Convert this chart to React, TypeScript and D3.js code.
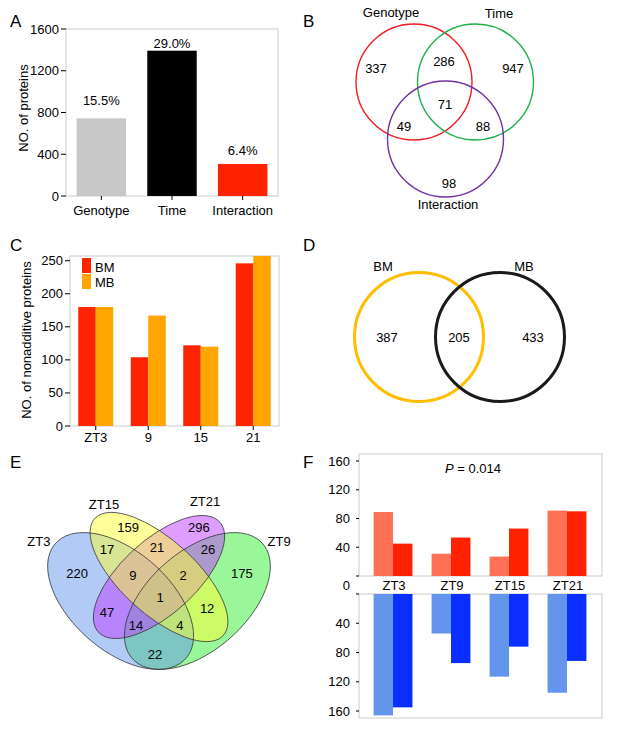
import * as d3 from "d3";

// A: proteins affected by genotype / time / interaction
const aCategories = ["Genotype", "Time", "Interaction"];
const aValues = [744, 1392, 307];
const aPercents = ["15.5%", "29.0%", "6.4%"];
const aColors = ["#c8c8c8", "#000000", "#ff2200"];
const aTicks = [0, 400, 800, 1200, 1600];

// B: three-set venn
const bSets = ["Genotype", "Time", "Interaction"];
const bSetColors = ["#f01c25", "#1fb04c", "#7030a0"];
const bRegions = ["G", "T", "I", "GT", "GI", "TI", "GTI"];
const bCounts = [337, 947, 98, 286, 49, 88, 71];

// C: nonadditive proteins per time point
const cGroups = ["ZT3", "9", "15", "21"];
const cSeries = ["BM", "MB"];
const cBM = [180, 104, 122, 246];
const cMB = [180, 167, 120, 258];
const cColors = ["#ff2400", "#ffa500"];
const cTicks = [0, 50, 100, 150, 200, 250];

// D: two-set venn
const dSets = ["BM", "MB"];
const dSetColors = ["#ffbe00", "#1a1a1a"];
const dCounts = [387, 205, 433];

// E: four-set venn (VennDiagram style ellipses)
const eSets = ["ZT3", "ZT9", "ZT15", "ZT21"];
const eFills = ["#6495ed", "#33f033", "#ffff33", "#bf3eff"];
const eDrawOrder = [1, 0, 3, 2];
const eRegions = [
  "ZT3", "ZT15", "ZT21", "ZT9",
  "ZT3&ZT15", "ZT15&ZT21", "ZT21&ZT9",
  "ZT3&ZT15&ZT21", "ZT15&ZT21&ZT9", "all",
  "ZT3&ZT21", "ZT15&ZT9",
  "ZT3&ZT21&ZT9", "ZT3&ZT15&ZT9", "ZT3&ZT9",
];
const eCounts = [220, 159, 296, 175, 17, 21, 26, 9, 2, 1, 47, 12, 14, 4, 22];

// F: up / down counts
const fGroups = ["ZT3", "ZT9", "ZT15", "ZT21"];
const fUpLight = [89, 31, 27, 91];
const fUpDark = [45, 53.5, 66, 90];
const fDownLight = [166, 54, 113, 135];
const fDownDark = [155, 94.5, 72, 91.5];
const fTicks = [40, 80, 120, 160];
const fColors = ["#ff7256", "#ff2200", "#6495ed", "#0a2eff"];

const FONT = "'Liberation Sans', Arial, sans-serif";
const FRAME = "#cccccc";

const PanelLetter = ({ x, y, t }) => (
  <text x={x} y={y} fontSize={17}>{t}</text>
);

const PanelA = () => {
  const x = d3.scaleBand().domain(aCategories).range([66, 278]).paddingInner(0.3).paddingOuter(0.15);
  const y = d3.scaleLinear().domain([0, 1600]).range([196, 29]);
  const labelOffsets = [13, 3, 9];
  return (
    <g>
      <PanelLetter x={10} y={27} t="A" />
      <rect x={66} y={29} width={212} height={167} fill="none" stroke={FRAME} />
      {aCategories.map((c, i) => (
        <g key={c}>
          <rect x={x(c)} y={y(aValues[i])} width={x.bandwidth()} height={y(0) - y(aValues[i])} fill={aColors[i]} />
          <text x={x(c) + x.bandwidth() / 2} y={y(aValues[i]) - labelOffsets[i]} textAnchor="middle" fontSize={13}>{aPercents[i]}</text>
          <line x1={x(c) + x.bandwidth() / 2} x2={x(c) + x.bandwidth() / 2} y1={196} y2={200} stroke="#000" />
          <text x={x(c) + x.bandwidth() / 2} y={215} textAnchor="middle" fontSize={13}>{c}</text>
        </g>
      ))}
      {aTicks.map((t) => (
        <g key={t}>
          <line x1={61} x2={66} y1={y(t)} y2={y(t)} stroke="#000" />
          <text x={59} y={y(t) + 4.5} textAnchor="end" fontSize={13}>{t}</text>
        </g>
      ))}
      <text transform="translate(28,108) rotate(-90)" textAnchor="middle" fontSize={13}>NO. of proteins</text>
    </g>
  );
};

const PanelB = () => {
  const circles = [
    { cx: 414, cy: 82 },
    { cx: 475.5, cy: 82 },
    { cx: 445.5, cy: 139 },
  ];
  const setLabels = [
    { x: 391, y: 17 },
    { x: 499, y: 18 },
    { x: 448, y: 209 },
  ];
  const regionPos = {
    G: [376, 68], T: [513, 68], I: [449, 183], GT: [444, 61],
    GI: [404, 126], TI: [483, 126], GTI: [445, 104],
  };
  return (
    <g>
      <PanelLetter x={303} y={27} t="B" />
      {bSets.map((s, i) => (
        <g key={s}>
          <circle cx={circles[i].cx} cy={circles[i].cy} r={58} fill="none" stroke={bSetColors[i]} strokeWidth={1.4} />
          <text x={setLabels[i].x} y={setLabels[i].y} textAnchor="middle" fontSize={13}>{s}</text>
        </g>
      ))}
      {bRegions.map((r, i) => (
        <text key={r} x={regionPos[r][0]} y={regionPos[r][1] + 4.5} textAnchor="middle" fontSize={13}>{bCounts[i]}</text>
      ))}
    </g>
  );
};

const PanelC = () => {
  const x = d3.scaleBand().domain(cGroups).range([70, 279]).paddingInner(0.333).paddingOuter(0.157);
  const xi = d3.scaleBand().domain(cSeries).range([0, x.bandwidth()]);
  const y = d3.scaleLinear().domain([0, 250]).range([426, 260.7]);
  const vals = [cBM, cMB];
  return (
    <g>
      <PanelLetter x={10} y={251} t="C" />
      <rect x={70} y={256} width={209} height={170} fill="none" stroke={FRAME} />
      {cGroups.map((g, gi) => (
        <g key={g}>
          {cSeries.map((s, si) => (
            <rect key={s} x={x(g) + xi(s)} y={Math.max(y(vals[si][gi]), 256)} width={xi.bandwidth()}
              height={y(0) - Math.max(y(vals[si][gi]), 256)} fill={cColors[si]} />
          ))}
          <line x1={x(g) + x.bandwidth() / 2} x2={x(g) + x.bandwidth() / 2} y1={426} y2={430} stroke="#000" />
          <text x={x(g) + x.bandwidth() / 2} y={442} textAnchor="middle" fontSize={13}>{g}</text>
        </g>
      ))}
      {cTicks.map((t) => (
        <g key={t}>
          <line x1={65} x2={70} y1={y(t)} y2={y(t)} stroke="#000" />
          <text x={63} y={y(t) + 4.5} textAnchor="end" fontSize={13}>{t}</text>
        </g>
      ))}
      {cSeries.map((s, i) => (
        <g key={s}>
          <rect x={82} y={258 + i * 16} width={9} height={15} fill={cColors[i]} />
          <text x={95} y={272 + i * 15} fontSize={13}>{s}</text>
        </g>
      ))}
      <text transform="translate(31,340) rotate(-90)" textAnchor="middle" fontSize={13}>NO. of nonadditive proteins</text>
    </g>
  );
};

const PanelD = () => {
  const cx = [419, 500];
  const labelX = [383, 524];
  const countX = [387, 459, 533];
  return (
    <g>
      <PanelLetter x={303} y={251} t="D" />
      {dSets.map((s, i) => (
        <g key={s}>
          <circle cx={cx[i]} cy={337} r={64.5} fill="none" stroke={dSetColors[i]} strokeWidth={3} />
          <text x={labelX[i]} y={271} textAnchor="middle" fontSize={13}>{s}</text>
        </g>
      ))}
      {dCounts.map((c, i) => (
        <text key={i} x={countX[i]} y={342} textAnchor="middle" fontSize={13}>{c}</text>
      ))}
    </g>
  );
};

const PanelE = () => {
  const ux = d3.scaleLinear().domain([0, 1]).range([31, 287]);
  const uy = d3.scaleLinear().domain([0, 1]).range([713.8, 473.8]);
  const ellipses = [
    { x: 0.35, y: 0.47, a: 0.35, b: 0.2, rot: 135 },
    { x: 0.65, y: 0.47, a: 0.35, b: 0.2, rot: 45 },
    { x: 0.5, y: 0.57, a: 0.35, b: 0.15, rot: 135 },
    { x: 0.5, y: 0.57, a: 0.33, b: 0.15, rot: 45 },
  ];
  const setLabelPos = [[0.031, 0.72], [0.969, 0.72], [0.285, 0.874], [0.68, 0.883]];
  const regionPos = [
    [0.18, 0.583], [0.379, 0.778], [0.656, 0.778], [0.824, 0.583],
    [0.297, 0.683], [0.492, 0.691], [0.691, 0.683],
    [0.398, 0.578], [0.594, 0.578], [0.504, 0.483],
    [0.297, 0.424], [0.688, 0.437],
    [0.41, 0.37], [0.582, 0.37], [0.484, 0.249],
  ];
  const sx = ux(1) - ux(0);
  const sy = uy(1) - uy(0);
  const ellipseTransform = (e) => `translate(${e.x},${e.y}) rotate(${e.rot})`;
  return (
    <g>
      <PanelLetter x={10} y={468} t="E" />
      <g transform={`translate(${ux(0)},${uy(0)}) scale(${sx},${sy})`}>
        {eDrawOrder.map((i) => (
          <ellipse key={"f" + eSets[i]} transform={ellipseTransform(ellipses[i])} rx={ellipses[i].a} ry={ellipses[i].b}
            fill={eFills[i]} fillOpacity={0.5} stroke="none" />
        ))}
        {eDrawOrder.map((i) => (
          <ellipse key={"s" + eSets[i]} transform={ellipseTransform(ellipses[i])} rx={ellipses[i].a} ry={ellipses[i].b}
            fill="none" stroke="#333" strokeWidth={0.8} vectorEffect="non-scaling-stroke" />
        ))}
      </g>
      {eSets.map((s, i) => (
        <text key={s} x={ux(setLabelPos[i][0])} y={uy(setLabelPos[i][1]) + 4.5} textAnchor="middle" fontSize={13}>{s}</text>
      ))}
      {eRegions.map((r, i) => (
        <text key={r} x={ux(regionPos[i][0])} y={uy(regionPos[i][1]) + 4.5} textAnchor="middle" fontSize={13}>{eCounts[i]}</text>
      ))}
    </g>
  );
};

const PanelF = () => {
  const x = d3.scaleBand().domain(fGroups).range([362, 598]).paddingInner(0.33).paddingOuter(0.2);
  const xi = d3.scaleBand().domain(["light", "dark"]).range([0, x.bandwidth()]);
  const yU = d3.scaleLinear().domain([0, 160]).range([576, 461]);
  const yD = d3.scaleLinear().domain([0, 160]).range([594, 711]);
  return (
    <g>
      <PanelLetter x={303} y={468} t="F" />
      <rect x={359} y={454} width={243} height={122} fill="none" stroke={FRAME} />
      <rect x={359} y={594} width={243} height={124} fill="none" stroke={FRAME} />
      {fGroups.map((g, i) => (
        <g key={g}>
          <rect x={x(g)} y={yU(fUpLight[i])} width={xi.bandwidth()} height={yU(0) - yU(fUpLight[i])} fill={fColors[0]} />
          <rect x={x(g) + xi("dark")} y={yU(fUpDark[i])} width={xi.bandwidth()} height={yU(0) - yU(fUpDark[i])} fill={fColors[1]} />
          <rect x={x(g)} y={yD(0)} width={xi.bandwidth()} height={yD(fDownLight[i]) - yD(0)} fill={fColors[2]} />
          <rect x={x(g) + xi("dark")} y={yD(0)} width={xi.bandwidth()} height={yD(fDownDark[i]) - yD(0)} fill={fColors[3]} />
          <text x={x(g) + x.bandwidth() / 2 + 1} y={590} textAnchor="middle" fontSize={13}>{g}</text>
        </g>
      ))}
      {[0, ...fTicks].map((t) => (
        <g key={t}>
          <line x1={356} x2={359} y1={yU(t)} y2={yU(t)} stroke="#000" />
          <line x1={356} x2={359} y1={yD(t)} y2={yD(t)} stroke="#000" />
          {t > 0 && <text x={350} y={yU(t) + 4.5} textAnchor="end" fontSize={13}>{t}</text>}
          {t > 0 && <text x={350} y={yD(t) + 4.5} textAnchor="end" fontSize={13}>{t}</text>}
        </g>
      ))}
      <text x={350} y={590} textAnchor="end" fontSize={13}>0</text>
      <text x={473} y={473} textAnchor="middle" fontSize={13}>
        <tspan fontStyle="italic">P</tspan> = 0.014
      </text>
    </g>
  );
};

export default function App() {
  return (
    <div>
      <style>{"body{margin:0;background:#fff}"}</style>
      <svg width={618} height={732} fontFamily={FONT} style={{ display: "block" }}>
        <rect width={618} height={732} fill="#fff" />
        <PanelA />
        <PanelB />
        <PanelC />
        <PanelD />
        <PanelE />
        <PanelF />
      </svg>
    </div>
  );
}
